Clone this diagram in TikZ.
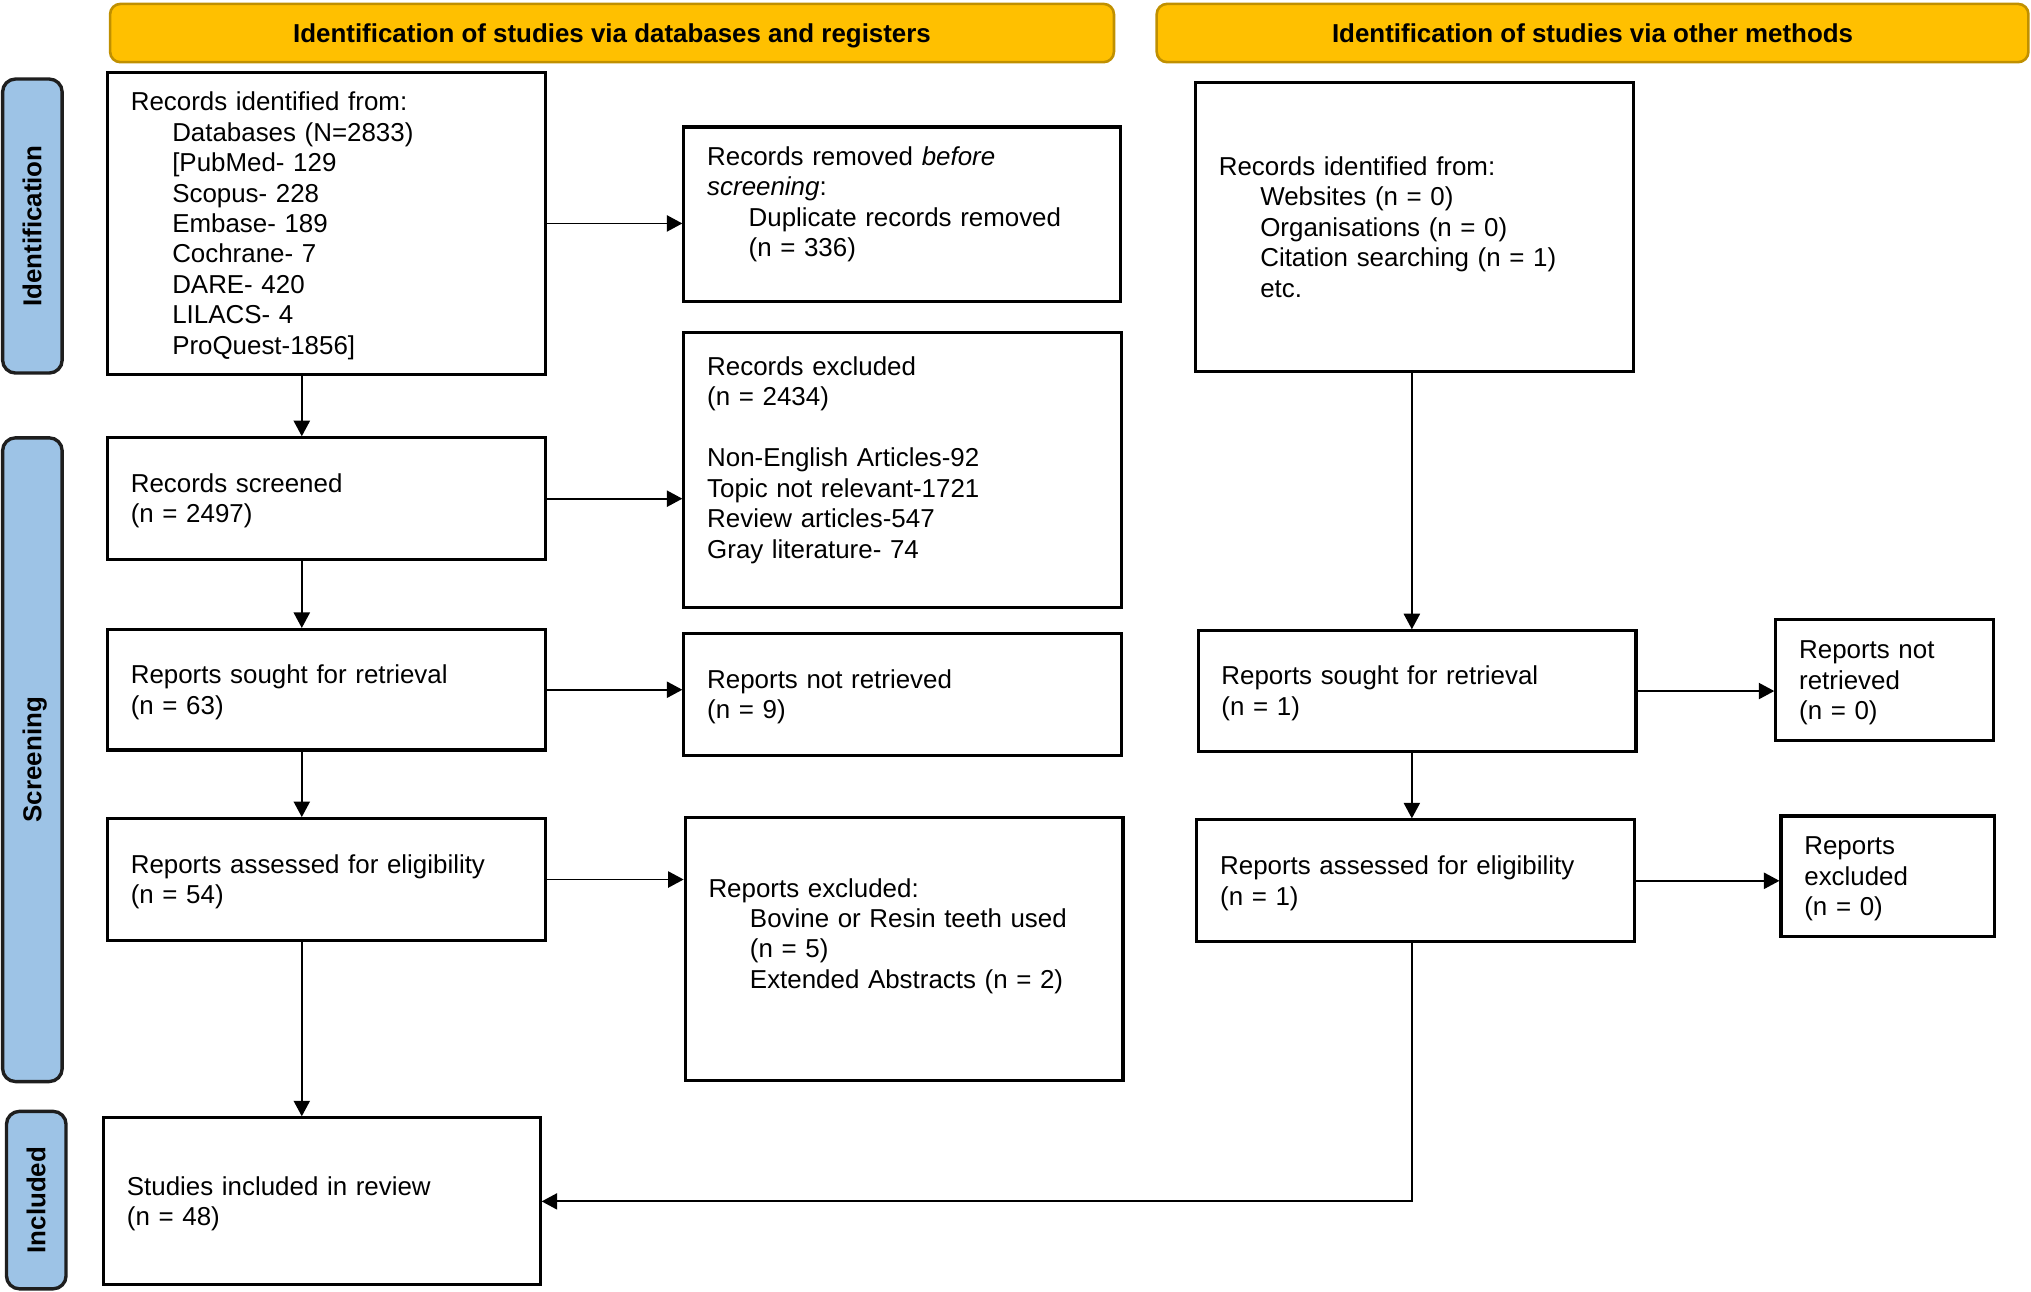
\documentclass[tikz,border=0pt]{standalone}
\usepackage{fontspec}
\setmainfont{Liberation Sans}
\usetikzlibrary{arrows.meta}
\definecolor{headgold}{HTML}{FFC000}
\definecolor{headedge}{HTML}{C09000}
\definecolor{sideblue}{HTML}{9DC3E6}
\definecolor{sideedge}{HTML}{1E1E1E}
\newcommand{\ind}{\hspace*{32pt}}
\newcommand{\topl}{\rule{0pt}{18.2pt}}
\newcommand{\botl}{\rule[-4.2pt]{0pt}{4.2pt}}
\tikzset{
  box/.style={draw=black, line width=2.4pt, rectangle, inner xsep=18pt, inner ysep=0pt,
    align=left, font=\fontsize{20}{23.5}\selectfont, anchor=center},
  header/.style={draw=headedge, fill=headgold, line width=2pt, rounded corners=8pt,
    font=\fontsize{20}{24}\selectfont\bfseries, anchor=center, inner sep=0pt,
    text height=15pt, text depth=1pt},
  side/.style={draw=sideedge, fill=sideblue, line width=2.6pt, rounded corners=10pt,
    font=\fontsize{20}{24}\selectfont\bfseries, anchor=center, inner sep=0pt, rotate=90,
    text height=15pt, text depth=1pt},
  arr/.style={-{Triangle[length=12pt,width=12.5pt]}, line width=1.4pt}
}
\begin{document}
\begin{tikzpicture}[x=1pt,y=-1pt]
\useasboundingbox (0,0) rectangle (1568,997);
% headers
\node[header, minimum width=775pt, minimum height=45pt] (h1) at (472.5,25.5) {Identification of studies via databases and registers};
\node[header, minimum width=673pt, minimum height=45pt] (h2) at (1229.5,25.5) {Identification of studies via other methods};
% side labels
\node[side, minimum width=227pt, minimum height=46pt] (s1) at (25,174.5) {Identification};
\node[side, minimum width=497pt, minimum height=46pt] (s2) at (25,586.5) {Screening};
\node[side, minimum width=137pt, minimum height=46pt] (s3) at (28,926.5) {Included};
% left column
\node[box, minimum width=338pt, minimum height=233pt, text width=302pt] (A) at (252,172.5)
  {\topl Records identified from:\\ \ind Databases (N=2833)\\ \ind [PubMed- 129\\ \ind Scopus- 228\\ \ind Embase- 189\\ \ind Cochrane- 7\\ \ind DARE- 420\\ \ind LILACS- 4\\ \ind ProQuest-1856]\botl};
\node[box, minimum width=337pt, minimum height=135pt, text width=301pt] (B) at (696.5,165.5)
  {\topl Records removed \emph{before}\\ \emph{screening}:\\ \ind Duplicate records removed\\ \ind (n = 336)\\ \mbox{}};
\node[box, minimum width=338pt, minimum height=94pt, text width=302pt] (C) at (252,385)
  {\topl Records screened\\ (n = 2497)\botl};
\node[box, minimum width=338pt, minimum height=212pt, text width=302pt] (D) at (697,363)
  {\topl Records excluded\\ (n = 2434)\\ \mbox{}\\ Non-English Articles-92\\ Topic not relevant-1721\\ Review articles-547\\ Gray literature- 74\\ \mbox{}};
\node[box, minimum width=338pt, minimum height=93pt, text width=302pt] (E) at (252,532.5)
  {\topl Reports sought for retrieval\\ (n = 63)\botl};
\node[box, minimum width=338pt, minimum height=94pt, text width=302pt] (F) at (697,536)
  {\topl Reports not retrieved\\ (n = 9)\botl};
\node[box, minimum width=338pt, minimum height=94pt, text width=302pt] (G) at (252,679)
  {\topl Reports assessed for eligibility\\ (n = 54)\botl};
\node[box, minimum width=338pt, minimum height=203pt, text width=302pt] (H) at (698,732.5)
  {\topl Reports excluded:\\ \ind Bovine or Resin teeth used\\ \ind (n = 5)\\ \ind Extended Abstracts (n = 2)\\ \mbox{}\botl};
\node[box, minimum width=337pt, minimum height=129pt, text width=301pt] (I) at (248.5,927.5)
  {\topl Studies included in review\\ (n = 48)\botl};
% right column
\node[box, minimum width=338pt, minimum height=223pt, text width=302pt] (J) at (1092,175.5)
  {\topl Records identified from:\\ \ind Websites (n = 0)\\ \ind Organisations (n = 0)\\ \ind Citation searching (n = 1)\\ \ind etc.\botl};
\node[box, minimum width=338pt, minimum height=93pt, text width=302pt] (K) at (1094,533.5)
  {\topl Reports sought for retrieval\\ (n = 1)\botl};
\node[box, minimum width=168pt, minimum height=94pt, text width=132pt] (L) at (1455,525)
  {\topl Reports not\\ retrieved\\ (n = 0)\botl};
\node[box, minimum width=338pt, minimum height=94pt, text width=302pt] (M) at (1093,680)
  {\topl Reports assessed for eligibility\\ (n = 1)\botl};
\node[box, minimum width=165pt, minimum height=93pt, text width=129pt] (N) at (1457.5,676.5)
  {\topl Reports\\ excluded\\ (n = 0)\botl};
% arrow columns
\coordinate (lx) at (233,0);
\coordinate (rx) at (1090,0);
% connectors
\draw[arr] (A.south -| lx) -- (C.north -| lx);
\draw[arr] (C.south -| lx) -- (E.north -| lx);
\draw[arr] (E.south -| lx) -- (G.north -| lx);
\draw[arr] (G.south -| lx) -- (I.north -| lx);
\draw[arr] (A.east) -- (A.east -| B.west);
\draw[arr] (C.east) -- (C.east -| D.west);
\draw[arr] (E.east) -- (E.east -| F.west);
\draw[arr] (G.east) -- (G.east -| H.west);
\draw[arr] (J.south -| rx) -- (K.north -| rx);
\draw[arr] (K.south -| rx) -- (M.north -| rx);
\draw[arr] (K.east) -- (K.east -| L.west);
\draw[arr] (M.east) -- (M.east -| N.west);
\draw[arr] (M.south -| rx) |- (I.east);
\end{tikzpicture}
\end{document}
